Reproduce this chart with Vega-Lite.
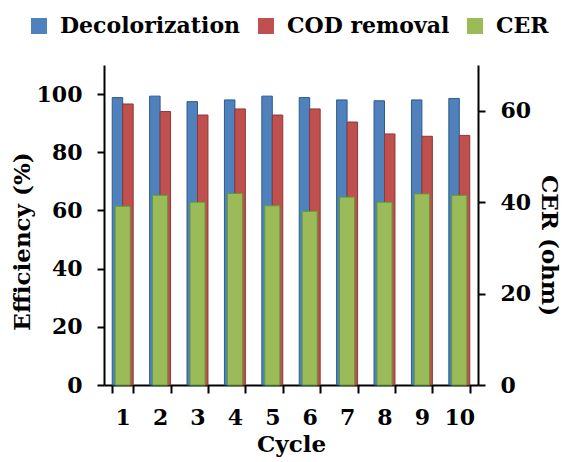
{
  "$schema": "https://vega.github.io/schema/vega-lite/v6.json",
  "width": 374,
  "height": 320,
  "autosize": {"type": "none"},
  "padding": {"left": 104, "top": 65, "right": 87, "bottom": 77},
  "background": "white",
  "config": {
    "view": {"stroke": null},
    "font": "DejaVu Serif",
    "axis": {
      "labelFont": "DejaVu Serif", "labelFontWeight": "bold", "labelFontSize": 22, "labelColor": "black",
      "titleFont": "DejaVu Serif", "titleFontWeight": "bold", "titleFontSize": 23, "titleColor": "black",
      "domainColor": "black", "domainWidth": 2, "tickColor": "black", "tickWidth": 2, "tickSize": 7, "grid": false,
      "labelPadding": 15
    },
    "legend": {"labelFont": "DejaVu Serif", "labelFontWeight": "bold", "labelFontSize": 22, "labelColor": "black", "labelLimit": 0}
  },
  "datasets": {
    "eff": [
      {"cycle": "1", "series": "Decolorization", "value": 98.8},
      {"cycle": "1", "series": "COD removal", "value": 96.6},
      {"cycle": "2", "series": "Decolorization", "value": 99.3},
      {"cycle": "2", "series": "COD removal", "value": 94.0},
      {"cycle": "3", "series": "Decolorization", "value": 97.4},
      {"cycle": "3", "series": "COD removal", "value": 92.8},
      {"cycle": "4", "series": "Decolorization", "value": 98.0},
      {"cycle": "4", "series": "COD removal", "value": 94.9},
      {"cycle": "5", "series": "Decolorization", "value": 99.3},
      {"cycle": "5", "series": "COD removal", "value": 92.8},
      {"cycle": "6", "series": "Decolorization", "value": 98.8},
      {"cycle": "6", "series": "COD removal", "value": 94.9},
      {"cycle": "7", "series": "Decolorization", "value": 98.0},
      {"cycle": "7", "series": "COD removal", "value": 90.4},
      {"cycle": "8", "series": "Decolorization", "value": 97.7},
      {"cycle": "8", "series": "COD removal", "value": 86.3},
      {"cycle": "9", "series": "Decolorization", "value": 98.0},
      {"cycle": "9", "series": "COD removal", "value": 85.5},
      {"cycle": "10", "series": "Decolorization", "value": 98.5},
      {"cycle": "10", "series": "COD removal", "value": 85.8}
    ],
    "cer": [
      {"cycle": "1", "cer": 39.1},
      {"cycle": "2", "cer": 41.5},
      {"cycle": "3", "cer": 40.0},
      {"cycle": "4", "cer": 41.9},
      {"cycle": "5", "cer": 39.2},
      {"cycle": "6", "cer": 38.0},
      {"cycle": "7", "cer": 41.1},
      {"cycle": "8", "cer": 40.0},
      {"cycle": "9", "cer": 41.8},
      {"cycle": "10", "cer": 41.5}
    ]
  },
  "encoding": {
    "x": {
      "field": "cycle", "type": "nominal", "sort": ["1","2","3","4","5","6","7","8","9","10"],
      "scale": {"paddingInner": 0.44, "paddingOuter": 0.22},
      "axis": {"title": "Cycle", "labelAngle": 0, "tickBand": "extent", "labelPadding": 14, "titlePadding": 5, "tickSize": 8}
    }
  },
  "layer": [
    {
      "data": {"name": "eff"},
      "mark": {"type": "bar", "strokeWidth": 1},
      "encoding": {
        "xOffset": {"field": "series", "type": "nominal", "sort": ["Decolorization", "COD removal"], "scale": {"paddingInner": 0, "paddingOuter": 0}},
        "y": {"field": "value", "type": "quantitative", "scale": {"domain": [0, 110]},
          "axis": {"title": "Efficiency (%)", "values": [0, 20, 40, 60, 80, 100], "titlePadding": 2, "titleY": 176}},
        "color": {"field": "series", "type": "nominal",
          "scale": {"domain": ["Decolorization", "COD removal", "CER"], "range": ["#4F81BD", "#C0504D", "#9BBB59"]},
          "legend": {"title": null, "orient": "none", "direction": "horizontal", "legendX": -76, "legendY": -50,
            "symbolType": "square", "symbolSize": 256, "symbolStrokeWidth": 0, "columnPadding": 14, "labelOffset": 10}},
        "stroke": {"field": "series", "type": "nominal",
          "scale": {"domain": ["Decolorization", "COD removal"], "range": ["#2F5A8A", "#8C3836"]}, "legend": null}
      }
    },
    {
      "data": {"name": "cer"},
      "mark": {"type": "bar", "width": {"band": 0.72}, "stroke": "#5E9B3A", "strokeWidth": 1},
      "encoding": {
        "y": {"field": "cer", "type": "quantitative", "scale": {"domain": [0, 70]},
          "axis": {"title": "CER (ohm)", "orient": "right", "values": [0, 20, 40, 60], "titlePadding": 6, "titleY": 180}},
        "color": {"datum": "CER"}
      }
    }
  ],
  "resolve": {"scale": {"y": "independent", "stroke": "independent"}}
}
